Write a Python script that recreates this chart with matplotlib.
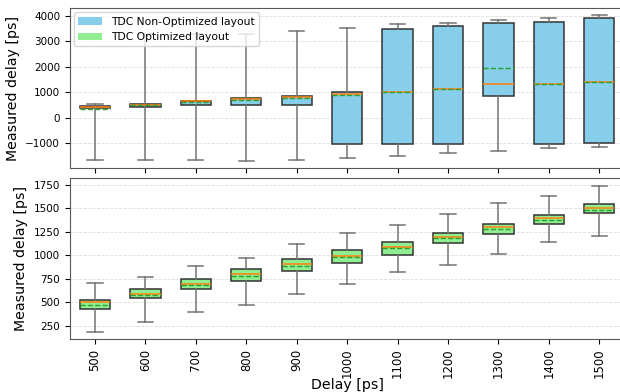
import matplotlib
matplotlib.use("Agg")
import matplotlib.pyplot as plt
from matplotlib.patches import Patch

# --------------------------------------------------------------------------- #
# Data (in ps)
# --------------------------------------------------------------------------- #
delays = [500, 600, 700, 800, 900, 1000, 1100, 1200, 1300, 1400, 1500]

# TDC Non-Optimized layout
nonopt_whislo = [-1640, -1640, -1640, -1675, -1640, -1580, -1480, -1375, -1285, -1180, -1130]
nonopt_q1     = [380, 444, 495, 495, 495, -1025, -1025, -1025, 872, -1025, -986]
nonopt_med    = [430, 525, 645, 740, 833, 923, 1013, 1118, 1340, 1325, 1418]
nonopt_mean   = [340, 505, 610, 700, 780, 897, 1013, 1118, 1963, 1325, 1418]
nonopt_q3     = [456, 560, 660, 767, 872, 1013, 3483, 3584, 3717, 3767, 3896]
nonopt_whishi = [534, 3300, 3300, 3300, 3405, 3534, 3662, 3717, 3833, 3923, 4013]

# TDC Optimized layout
opt_whislo = [186, 293, 400, 470, 585, 691, 817, 891, 1015, 1137, 1201]
opt_q1     = [432, 539, 645, 727, 827, 916, 1002, 1126, 1226, 1333, 1447]
opt_med    = [499, 588, 691, 795, 902, 991, 1087, 1197, 1294, 1390, 1497]
opt_mean   = [474, 574, 678, 780, 887, 983, 1076, 1183, 1280, 1376, 1483]
opt_q3     = [528, 645, 748, 855, 955, 1052, 1144, 1233, 1330, 1426, 1543]
opt_whishi = [699, 770, 887, 973, 1116, 1233, 1325, 1432, 1550, 1632, 1739]

COL_NONOPT = "skyblue"
COL_OPT = "lightgreen"


def make_stats(whislo, q1, med, mean, q3, whishi):
    return [dict(whislo=a, q1=b, med=c, mean=d, q3=e, whishi=f, fliers=[])
            for a, b, c, d, e, f in zip(whislo, q1, med, mean, q3, whishi)]


def draw(ax, stats, color):
    positions = list(range(1, len(stats) + 1))
    bp = ax.bxp(stats, positions=positions, widths=0.6, patch_artist=True,
                showmeans=True, meanline=True, showfliers=False,
                boxprops=dict(facecolor=color, edgecolor="0.2", linewidth=1.1),
                whiskerprops=dict(color="0.45", linewidth=1.1),
                capprops=dict(color="0.45", linewidth=1.1),
                medianprops=dict(color="C1", linewidth=1.1),
                meanprops=dict(color="C2", linestyle="--", linewidth=1.0))
    ax.set_xlim(0.5, len(stats) + 0.5)
    ax.grid(axis="y", color="#dddddd", linestyle="--", linewidth=0.6)
    ax.set_axisbelow(True)
    for s in ax.spines.values():
        s.set_color("0.35")
    return bp


fig = plt.figure(figsize=(6.2, 3.92), dpi=100)
ax1 = fig.add_axes([0.1126, 0.5714, 0.8947, 0.408])
ax2 = fig.add_axes([0.1126, 0.1352, 0.8947, 0.410])

draw(ax1, make_stats(nonopt_whislo, nonopt_q1, nonopt_med, nonopt_mean,
                     nonopt_q3, nonopt_whishi), COL_NONOPT)
draw(ax2, make_stats(opt_whislo, opt_q1, opt_med, opt_mean,
                     opt_q3, opt_whishi), COL_OPT)

ax1.set_yticks([-1000, 0, 1000, 2000, 3000, 4000])
ax1.tick_params(axis="x", labelbottom=False)
ax1.tick_params(axis="y", labelsize=7.5)
ax1.set_ylabel("Measured delay [ps]", fontsize=10.2)

ax2.set_yticks([250, 500, 750, 1000, 1250, 1500, 1750])
ax2.set_xticks(range(1, len(delays) + 1), labels=[str(d) for d in delays],
               rotation=90)
ax2.tick_params(axis="x", labelsize=8.4)
ax2.tick_params(axis="y", labelsize=7.5)
ax2.set_ylabel("Measured delay [ps]", fontsize=10.2)
ax2.set_xlabel("Delay [ps]", fontsize=10.2, labelpad=0)

handles = [Patch(facecolor=COL_NONOPT, label="TDC Non-Optimized layout"),
           Patch(facecolor=COL_OPT, label="TDC Optimized layout")]
ax1.legend(handles=handles, loc="upper left", fontsize=7.75,
           borderaxespad=0.4, handlelength=2.2)

fig.savefig("out.png", dpi=100)
